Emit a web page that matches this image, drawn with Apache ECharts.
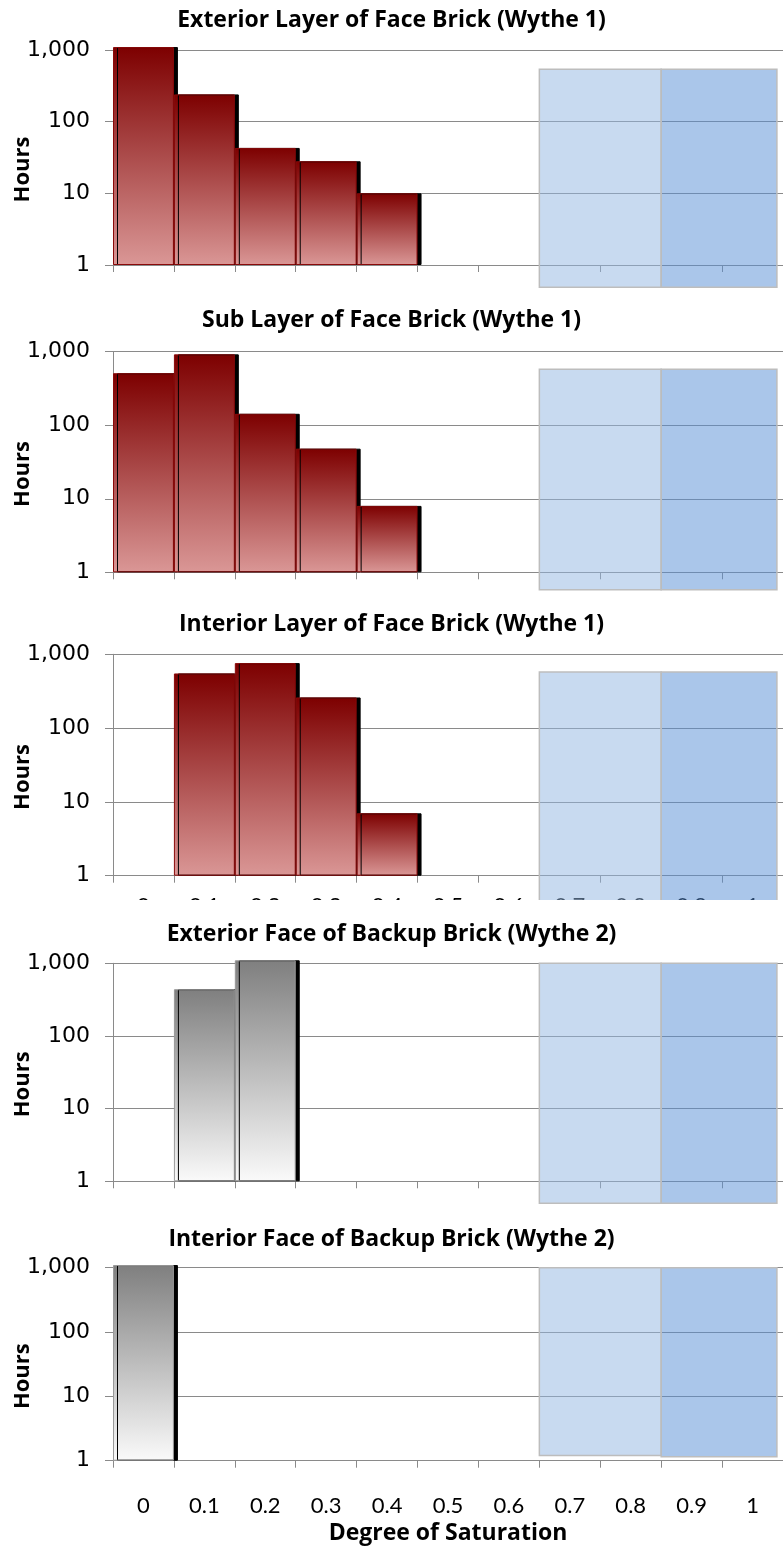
<!DOCTYPE html>
<html><head><meta charset="utf-8">
<script src="https://cdn.jsdelivr.net/npm/echarts@6/dist/echarts.min.js"></script>
<style>
html,body{margin:0;padding:0;background:#fff;}
.p{position:absolute;left:0;width:783px;overflow:hidden;}
</style></head><body>
<div id="c0" class="p" style="top:0;height:300px"></div>
<div id="c1" class="p" style="top:300px;height:304px"></div>
<div id="c2" class="p" style="top:604px;height:296px"></div>
<div id="c3" class="p" style="top:900px;height:315px"></div>
<div id="c4" class="p" style="top:1215px;height:338px"></div>
<script>
// ---- data ----
const categories = ['0','0.1','0.2','0.3','0.4','0.5','0.6','0.7','0.8','0.9','1'];
const titles = [
  'Exterior Layer of Face Brick (Wythe 1)',
  'Sub Layer of Face Brick (Wythe 1)',
  'Interior Layer of Face Brick (Wythe 1)',
  'Exterior Face of Backup Brick (Wythe 2)',
  'Interior Face of Backup Brick (Wythe 2)'
];
const exteriorLayerWythe1 = [1100, 240, 43, 28, 10, null, null, null, null, null, null];
const subLayerWythe1      = [510, 920, 143, 48, 8, null, null, null, null, null, null];
const interiorLayerWythe1 = [null, 550, 760, 260, 7, null, null, null, null, null, null];
const exteriorFaceWythe2  = [null, 440, 1100, null, null, null, null, null, null, null, null];
const interiorFaceWythe2  = [1100, null, null, null, null, null, null, null, null, null, null];
// shaded saturation zones: light zone [edge0, edge1], dark zone [edge1, edge2]
const zoneEdges = [0.65, 0.85, 1.04];
const zoneTop = [540, 575, 575, 1000, 1000];
const zoneBottomLight = [0.49, 0.58, 0.4, 0.5, 1.2];
const zoneBottomDark  = [0.49, 0.58, 0.4, 0.5, 1.15];

const seriesData = [exteriorLayerWythe1, subLayerWythe1, interiorLayerWythe1, exteriorFaceWythe2, interiorFaceWythe2];

// ---- layout (px within each panel div) ----
const layout = [
  {titleTop: 4,  gridTop: 50,   gridH: 215,   labels: false},
  {titleTop: 4,  gridTop: 51.7, gridH: 220.6, labels: false},
  {titleTop: 4,  gridTop: 50.3, gridH: 221.4, labels: 'cut'},
  {titleTop: 18, gridTop: 63.3, gridH: 218,   labels: false},
  {titleTop: 8,  gridTop: 52.7, gridH: 193,   labels: true}
];

const GRID = '#8a8a8a';
function redGrad(){ return new echarts.graphic.LinearGradient(0,0,0,1,[{offset:0,color:'#7d0000'},{offset:1,color:'#da9796'}]); }
function grayGrad(){ return new echarts.graphic.LinearGradient(0,0,0,1,[{offset:0,color:'#7f7f7f'},{offset:1,color:'#fafafa'}]); }

function buildOption(i){
  const L = layout[i];
  const isRed = i < 3;
  const showLabels = !!L.labels;
  return {
    animation: false,
    backgroundColor: '#fff',
    title: {
      text: titles[i], left: 'center', top: L.titleTop,
      textStyle: {fontFamily: 'Open Sans', fontWeight: 'bold', fontSize: 23, color: '#000'}
    },
    grid: {left: 113, width: 670, top: L.gridTop, height: L.gridH, containLabel: false, outerBoundsMode: 'none'},
    xAxis: [
      {
        type: 'category', data: categories, boundaryGap: true,
        axisLine: {onZero: false, lineStyle: {color: GRID, width: 1}},
        axisTick: {show: true, length: 7, lineStyle: {color: GRID}},
        axisLabel: {show: showLabels, fontFamily: 'Lato', fontSize: 22, color: '#000', margin: L.labels === 'cut' ? 19 : 34},
        name: L.labels === true ? 'Degree of Saturation' : '',
        nameLocation: 'middle', nameGap: 61, nameMoveOverlap: false,
        nameTextStyle: {fontFamily: 'Open Sans', fontWeight: 'bold', fontSize: 23, color: '#000'},
        splitLine: {show: false}
      },
      {type: 'value', min: -0.05, max: 1.05, show: false}
    ],
    yAxis: [{
      type: 'log', logBase: 10, min: 1, max: 1000,
      name: 'Hours', nameLocation: 'middle', nameRotate: 90, nameGap: 79, nameMoveOverlap: false,
      nameTextStyle: {fontFamily: 'Open Sans', fontWeight: 'bold', fontSize: 22, color: '#000', padding: [0, 24, 0, 0]},
      axisLine: {show: true, onZero: false, lineStyle: {color: GRID, width: 1}},
      axisTick: {show: true, length: 8, lineStyle: {color: GRID}},
      axisLabel: {
        fontFamily: 'DejaVu Sans', fontSize: 22, color: '#000', margin: 23,
        formatter: v => Math.round(v).toLocaleString('en-US')
      },
      splitLine: {show: true, lineStyle: {color: GRID, width: 1}},
      minorTick: {show: false}
    }],
    series: [
      {
        type: 'bar', xAxisIndex: 0, yAxisIndex: 0, data: seriesData[i],
        barCategoryGap: '0%', clip: false, silent: true, z: 2,
        itemStyle: {
          color: isRed ? redGrad() : grayGrad(),
          borderColor: isRed ? '#8a0a0a' : '#999999', borderWidth: 1,
          shadowColor: '#000', shadowBlur: 0, shadowOffsetX: 4, shadowOffsetY: 0
        }
      },
      {
        type: 'custom', xAxisIndex: 1, yAxisIndex: 0, clip: false, silent: true, z: 3,
        data: [
          [zoneEdges[0], zoneEdges[1], zoneBottomLight[i], zoneTop[i], 0],
          [zoneEdges[1], zoneEdges[2], zoneBottomDark[i], zoneTop[i], 1]
        ],
        encode: {x: [0, 1], y: [2, 3]},
        renderItem: function(params, api){
          const p0 = api.coord([api.value(0), api.value(3)]);
          const p1 = api.coord([api.value(1), api.value(2)]);
          const dark = api.value(4) === 1;
          return {
            type: 'rect',
            shape: {x: p0[0], y: p0[1], width: p1[0] - p0[0], height: p1[1] - p0[1]},
            style: {fill: dark ? 'rgba(85,141,213,0.5)' : 'rgba(145,181,225,0.5)', stroke: '#bdbdbd', lineWidth: 1.5}
          };
        }
      }
    ]
  };
}

for (let i = 0; i < 5; i++) {
  const chart = echarts.init(document.getElementById('c' + i), null, {renderer: 'canvas'});
  chart.setOption(buildOption(i));
}
</script>
</body></html>
